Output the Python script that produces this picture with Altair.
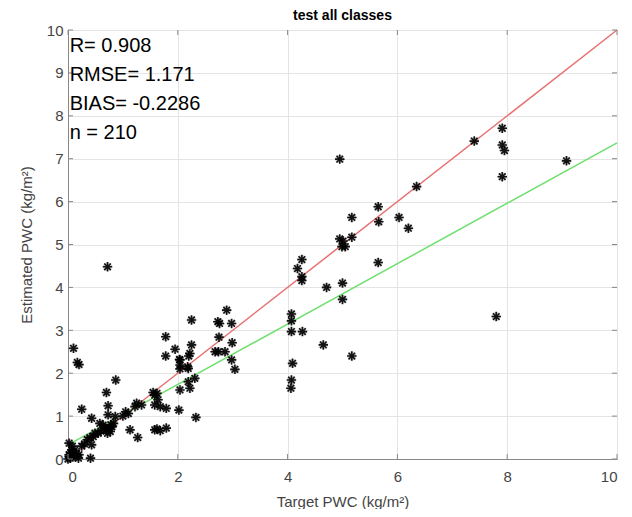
import altair as alt
import pandas as pd

# scatter points (target, estimated)
target = [0.02,0.07,0.13,0.19,0.04,0.41,0.02,0.05,0.10,0.15,0.08,0.00,0.03,0.12,0.20,0.25,0.30,0.35,0.43,0.46,0.49,0.40,0.55,0.60,
          0.10,0.17,0.20,0.25,0.43,0.72,
          0.70,0.87,0.73,0.73,0.86,0.64,0.58,0.70,0.77,0.80,0.83,0.75,0.68,0.78,0.72,
          1.13,1.27,1.10,1.22,1.34,1.25,1.00,1.05,
          1.55,1.62,1.58,1.64,1.58,1.68,1.79,1.58,1.68,1.79,1.62,1.78,1.95,1.78,
          2.02,2.04,2.04,2.04,2.04,2.18,2.19,2.22,2.31,2.33,2.25,2.25,2.22,2.20,2.19,2.03,
          2.76,2.75,2.74,2.89,2.98,2.99,2.86,2.68,2.98,3.04,2.73,
          4.26,4.18,4.26,4.26,4.71,5.00,5.00,5.65,4.07,4.07,4.07,4.27,4.65,5.17,4.09,4.07,4.06,
          4.95,5.65,5.66,5.17,6.03,6.20,4.95,5.01,5.17,5.05,4.99,
          6.35,7.40,7.91,7.91,7.95,7.91,9.08,7.80]
estimated = [0.37,0.21,0.05,0.02,0.02,0.02,0.10,0.15,0.08,0.12,0.30,0.00,0.05,0.20,0.10,0.30,0.35,0.45,0.33,0.52,0.60,0.50,0.60,0.65,
             2.58,2.25,2.20,1.16,0.95,4.48,
             1.55,1.84,1.24,1.03,0.99,0.79,0.83,0.68,0.64,0.75,0.83,0.70,0.72,0.80,0.60,
             0.68,0.50,1.06,1.22,1.26,1.30,1.00,1.10,
             1.55,1.53,1.49,1.38,1.26,1.22,1.18,0.68,0.66,0.72,0.70,2.85,2.56,2.40,
             1.14,1.61,2.31,2.19,2.10,2.15,1.80,1.65,1.88,0.97,3.24,2.66,2.46,2.40,2.11,2.32,
             3.16,2.84,2.50,3.47,3.16,2.71,2.50,2.50,2.31,2.09,3.20,
             4.65,4.44,4.25,4.16,4.00,4.10,3.72,4.58,3.38,3.22,2.97,2.97,2.66,2.40,2.23,1.84,1.65,
             6.99,5.88,5.53,5.63,5.63,5.38,5.13,5.08,5.17,4.95,4.95,
             6.35,7.41,7.71,7.32,7.19,6.58,6.95,3.32]

# 1:1 line and fitted line endpoints
line_x = [0, 10]
one_to_one_y = [0, 10]
fit_y = [0.33, 7.37]

# statistics text
stat_labels = ["R= 0.908", "RMSE= 1.171", "BIAS= -0.2286", "n = 210"]
stat_x = [0.03, 0.03, 0.03, 0.03]
stat_y = [9.63, 8.95, 8.28, 7.60]

x_ticks = [0, 2, 4, 6, 8, 10]
y_ticks = [0, 1, 2, 3, 4, 5, 6, 7, 8, 9, 10]

pts = pd.DataFrame({"t": target, "e": estimated})
ones = pd.DataFrame({"t": line_x, "e": one_to_one_y})
fit = pd.DataFrame({"t": line_x, "e": fit_y})
stats = pd.DataFrame({"label": stat_labels, "t": stat_x, "e": stat_y})
xt = pd.DataFrame({"v": x_ticks})
yt = pd.DataFrame({"v": y_ticks})

xs = alt.Scale(domain=[0, 10], nice=False)
ys = alt.Scale(domain=[0, 10], nice=False)

AX = dict(grid=True, tickSize=0, domainColor="#888888", gridColor="#e4e4e4",
          labelFont="Liberation Sans", titleFont="Liberation Sans",
          labelFontSize=15, titleFontSize=15, labelColor="#444444",
          titleColor="#444444", titleFontWeight="normal")

X = alt.X("t:Q", scale=xs, title="Target PWC (kg/m²)",
          axis=alt.Axis(values=x_ticks, labelPadding=10, titlePadding=10, **AX))
Y = alt.Y("e:Q", scale=ys, title="Estimated PWC (kg/m²)",
          axis=alt.Axis(values=y_ticks, labelPadding=5, titlePadding=12, **AX))

base_pts = alt.Chart(pts).mark_point(
    shape="M-1,0L1,0M0,-1L0,1M-0.7,-0.7L0.7,0.7M-0.7,0.7L0.7,-0.7",
    filled=False, size=90, strokeWidth=1.6, color="black", opacity=0.9
).encode(x=X, y=Y)

halo = alt.Chart(pts).mark_point(
    shape="circle", filled=True, size=80, color="#666666", opacity=0.35
).encode(x=alt.X("t:Q", scale=xs), y=alt.Y("e:Q", scale=ys))

red = alt.Chart(ones).mark_line(color="#e87070", strokeWidth=1.5).encode(
    x=alt.X("t:Q", scale=xs), y=alt.Y("e:Q", scale=ys))
green = alt.Chart(fit).mark_line(color="#6ee06e", strokeWidth=1.5).encode(
    x=alt.X("t:Q", scale=xs), y=alt.Y("e:Q", scale=ys))

# inward ticks (MATLAB style)
xtick_b = alt.Chart(xt).mark_rule(color="#888888").encode(
    x=alt.X("v:Q", scale=xs), y=alt.value(429), y2=alt.value(424))
xtick_t = alt.Chart(xt).mark_rule(color="#888888").encode(
    x=alt.X("v:Q", scale=xs), y=alt.value(0), y2=alt.value(5))
ytick_l = alt.Chart(yt).mark_rule(color="#888888").encode(
    y=alt.Y("v:Q", scale=ys), x=alt.value(0), x2=alt.value(5))
ytick_r = alt.Chart(yt).mark_rule(color="#888888").encode(
    y=alt.Y("v:Q", scale=ys), x=alt.value(549), x2=alt.value(544))

text = alt.Chart(stats).mark_text(
    align="left", baseline="middle", fontSize=20, font="Liberation Sans", color="black"
).encode(x=alt.X("t:Q", scale=xs), y=alt.Y("e:Q", scale=ys), text="label:N")

chart = alt.layer(
    red, green, halo, base_pts, xtick_b, xtick_t, ytick_l, ytick_r, text
).properties(
    width=549, height=429,
    background="white",
    title=alt.TitleParams("test all classes", fontSize=14, font="Liberation Sans",
                          fontWeight="bold", offset=0, color="black"),
    autosize=alt.AutoSizeParams(type="none"),
    padding={"left": 60, "top": 22, "right": 7, "bottom": 50},
).configure_view(
    stroke="#888888", strokeWidth=1
)

chart.save("out.html", embed_options={"renderer": "svg", "actions": False})
